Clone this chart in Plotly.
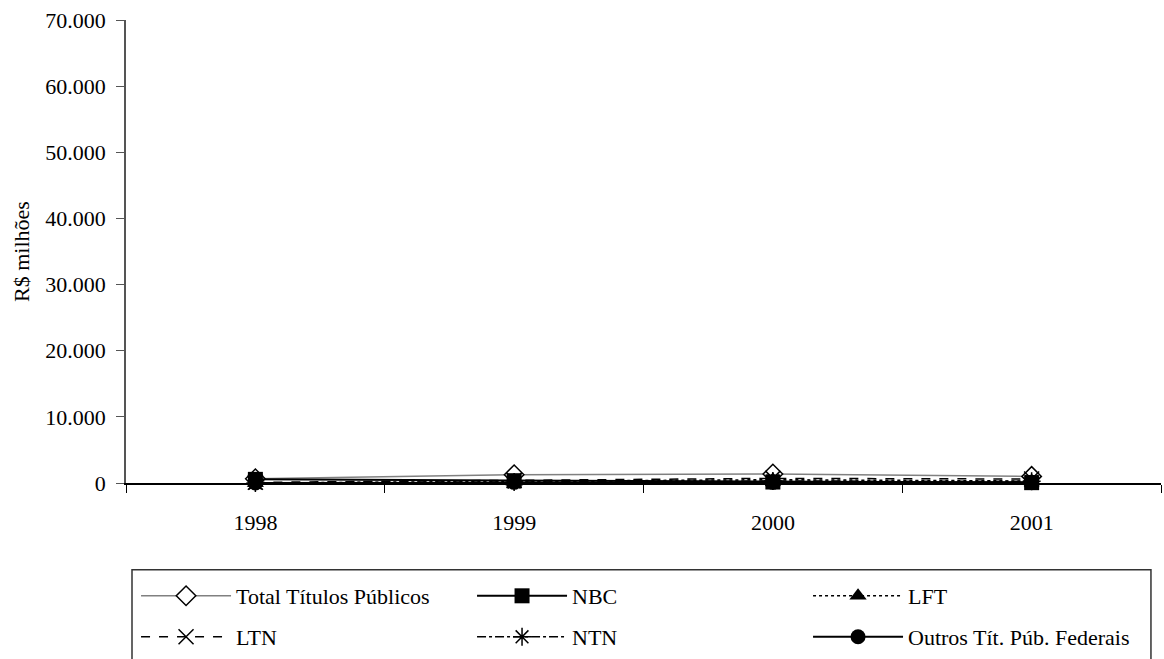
import plotly.graph_objects as go

years = ["1998", "1999", "2000", "2001"]
total = [650, 1250, 1350, 1000]
nbc = [550, 350, 150, 50]
lft = [0, 200, 500, 300]
ltn = [100, 400, 700, 600]
ntn = [0, 150, 300, 250]
outros = [0, 100, 100, 100]
y_ticks = [0, 10000, 20000, 30000, 40000, 50000, 60000, 70000]

series = [
    ("Total Títulos Públicos", total, dict(color="#808080", width=1.5, dash="solid"),
     dict(symbol="diamond", size=15, color="white", line=dict(color="black", width=1.5)), "legend"),
    ("NBC", nbc, dict(color="black", width=2, dash="solid"),
     dict(symbol="square", size=15, color="black"), "legend"),
    ("LFT", lft, dict(color="black", width=1.5, dash="dot"),
     dict(symbol="triangle-up", size=15, color="black"), "legend"),
    ("LTN", ltn, dict(color="black", width=1.5, dash="dash"),
     dict(symbol="x-thin-open", size=15, color="black", line=dict(color="black", width=1.5)), "legend2"),
    ("NTN", ntn, dict(color="black", width=1.5, dash="dashdot"),
     dict(symbol="asterisk-open", size=15, color="black", line=dict(color="black", width=1.5)), "legend2"),
    ("Outros Tít. Púb. Federais", outros, dict(color="black", width=2, dash="solid"),
     dict(symbol="circle", size=15, color="black"), "legend2"),
]

fig = go.Figure()
for name, vals, line, marker, lg in series:
    fig.add_trace(go.Scatter(x=years, y=vals, name=name, mode="lines+markers",
                             line=line, marker=marker, cliponaxis=False, legend=lg))

font = dict(family="Liberation Serif, Times New Roman, serif", size=22, color="black")
leg_common = dict(orientation="h", x=0.0097, xanchor="left", yanchor="middle",
                  borderwidth=0, bgcolor="rgba(0,0,0,0)",
                  entrywidth=231, entrywidthmode="pixels", itemwidth=90,
                  font=font, traceorder="normal")

fig.update_layout(
    width=1164, height=659,
    margin=dict(l=126, r=3, t=20, b=175),
    paper_bgcolor="white", plot_bgcolor="white",
    separators=",.",
    font=font,
    showlegend=True,
    legend=dict(leg_common, y=-0.2414),
    legend2=dict(leg_common, y=-0.3297),
    xaxis=dict(type="category", showline=True, linecolor="black", linewidth=1.5,
               ticks="outside", ticklen=8, tickcolor="black", tickson="boundaries",
               showgrid=False, zeroline=False, ticklabelstandoff=19,
               tickfont=font, range=[-0.5, 3.5]),
    yaxis=dict(range=[0, 70000], tickvals=y_ticks, tickformat=",d",
               showline=True, linecolor="#555", linewidth=1.5,
               ticks="outside", ticklen=8, tickcolor="#555",
               showgrid=False, zeroline=False, ticklabelstandoff=6,
               tickfont=font,
               title=dict(text="R$ milhões", font=font, standoff=10)),
    shapes=[dict(type="rect", xref="paper", yref="paper",
                 x0=0.0058, x1=0.9903, y0=-0.45, y1=-0.1875,
                 line=dict(color="#333", width=1.5), fillcolor="rgba(0,0,0,0)")],
)

fig.write_html("out.html")
